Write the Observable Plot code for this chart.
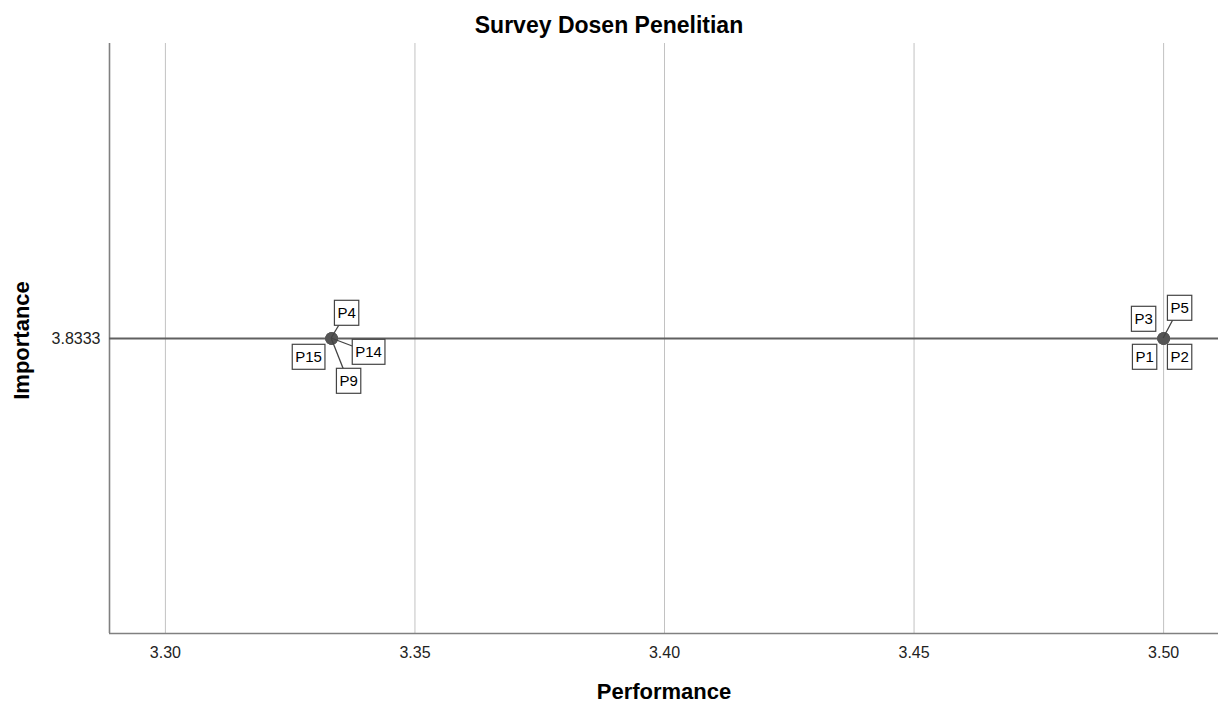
<!DOCTYPE html>
<html>
<head>
<meta charset="utf-8">
<script src="https://cdn.jsdelivr.net/npm/d3@7"></script>
<script src="https://cdn.jsdelivr.net/npm/@observablehq/plot@0.6"></script>
<style>
  body { margin: 0; background: #fff; overflow: hidden; }
  #title {
    width: 1218px; height: 43px; box-sizing: border-box; padding-top: 12px;
    text-align: center; font: bold 23px "Liberation Sans", Arial, sans-serif;
    line-height: normal; color: #000;
  }
</style>
</head>
<body>
<div id="title">Survey Dosen Penelitian</div>
<div id="chart"></div>
<script>
// ---- data ----
const labels      = ["P1", "P2", "P3", "P5", "P4", "P9", "P14", "P15"];
const performance = [3.5, 3.5, 3.5, 3.5, 3.3333, 3.3333, 3.3333, 3.3333];
const importance  = [3.8333, 3.8333, 3.8333, 3.8333, 3.8333, 3.8333, 3.8333, 3.8333];
const xTicks = [3.30, 3.35, 3.40, 3.45, 3.50];
const yTicks = [3.8333];
const yReference = [3.8333];
const xDomain = [3.2888, 3.5110];
const yDomain = [3.7333, 3.9333];

// ---- label placement (pixel offsets of label box centre from its point) ----
const labelLayout = {
  P1:  {dx: -19, dy: 19, leader: false},
  P2:  {dx: 16,  dy: 19, leader: false},
  P3:  {dx: -20, dy: -19, leader: false},
  P5:  {dx: 16,  dy: -30, leader: true},
  P4:  {dx: 15,  dy: -25, leader: true},
  P9:  {dx: 17,  dy: 43, leader: true},
  P14: {dx: 37,  dy: 14, leader: true},
  P15: {dx: -23, dy: 19, leader: false}
};

const rows = labels.map((label, i) => ({label, performance: performance[i], importance: importance[i]}));

const plot = Plot.plot({
  width: 1218,
  height: 662,
  marginTop: 0,
  marginLeft: 109,
  marginRight: 0,
  marginBottom: 72,
  style: {fontFamily: '"Liberation Sans", Arial, sans-serif', fontSize: "16px", background: "#fff", overflow: "visible"},
  x: {domain: xDomain},
  y: {domain: yDomain},
  marks: [
    Plot.ruleX(xTicks, {stroke: "#c2c2c2", strokeWidth: 1}),
    Plot.ruleX([xDomain[0]], {stroke: "#808080", strokeWidth: 1.6}),
    Plot.ruleY([yDomain[0]], {stroke: "#808080", strokeWidth: 1.6}),
    Plot.ruleY(yReference, {stroke: "#606060", strokeWidth: 2}),
    Plot.axisX({ticks: xTicks, tickSize: 0, tickPadding: 13, tickFormat: d3.format(".2f"), label: null, fontSize: 16, fill: "#222"}),
    Plot.axisY({ticks: yTicks, tickSize: 0, tickPadding: 9, tickFormat: d => d.toFixed(4), label: null, fontSize: 16, fill: "#222"}),
    Plot.text(["Performance"], {text: d => d, frameAnchor: "bottom", dy: 65, fontSize: 22, fontWeight: "bold", fill: "#000"}),
    Plot.text(["Importance"], {text: d => d, frameAnchor: "left", textAnchor: "middle", dx: -88, dy: 2, rotate: -90, fontSize: 22, fontWeight: "bold", fill: "#000"}),
    Plot.dot(rows, {x: "performance", y: "importance", r: 5.5, fill: "#555", stroke: "#555"}),
    ...rows.map(r => Plot.text([r], {
      x: "performance", y: "importance", text: "label",
      dx: labelLayout[r.label].dx, dy: labelLayout[r.label].dy,
      fontSize: 15, fill: "#000"
    }))
  ]
});
document.getElementById("chart").append(plot);

// ---- boxes and leader lines for labels ----
const ns = "http://www.w3.org/2000/svg";
const xs = plot.scale("x"), ys = plot.scale("y");
const labelSet = new Set(labels);
const texts = Array.from(plot.querySelectorAll('g[aria-label="text"] text')).filter(t => labelSet.has(t.textContent));
if (texts.length) {
  const firstG = texts[0].parentNode;
  const leaderG = document.createElementNS(ns, "g");
  firstG.parentNode.insertBefore(leaderG, firstG);
  rows.forEach(r => {
    const L = labelLayout[r.label];
    if (!L.leader) return;
    const px = xs.apply(r.performance), py = ys.apply(r.importance);
    const line = document.createElementNS(ns, "line");
    line.setAttribute("x1", px); line.setAttribute("y1", py);
    line.setAttribute("x2", px + L.dx); line.setAttribute("y2", py + L.dy);
    line.setAttribute("stroke", "#444"); line.setAttribute("stroke-width", 1.3);
    leaderG.appendChild(line);
  });
  texts.forEach(t => {
    const bb = t.getBBox();
    const rect = document.createElementNS(ns, "rect");
    rect.setAttribute("x", bb.x - 3);
    rect.setAttribute("y", bb.y - 4);
    rect.setAttribute("width", bb.width + 6);
    rect.setAttribute("height", bb.height + 8);
    rect.setAttribute("fill", "#fff");
    rect.setAttribute("stroke", "#444");
    rect.setAttribute("stroke-width", 1.2);
    const tr = t.getAttribute("transform");
    if (tr) rect.setAttribute("transform", tr);
    t.parentNode.insertBefore(rect, t);
  });
}
</script>
</body>
</html>
